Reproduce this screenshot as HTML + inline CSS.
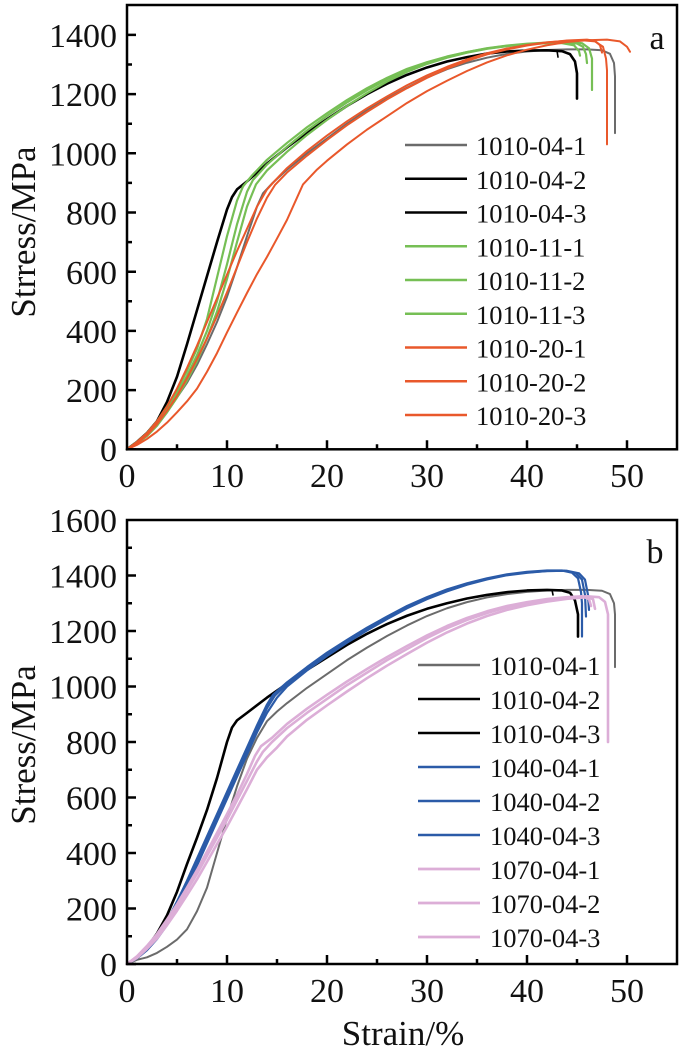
<!DOCTYPE html>
<html><head><meta charset="utf-8"><style>
html,body{margin:0;padding:0;background:#fff;}
svg{display:block;}
text{font-family:"Liberation Serif",serif;fill:#111;}
.tk{font-size:34px;}
.lg{font-size:26.5px;}
.al{font-size:35px;}
polyline{fill:none;stroke-linejoin:round;stroke-linecap:round;}
</style></head><body>
<svg width="685" height="1058" viewBox="0 0 685 1058" xmlns="http://www.w3.org/2000/svg">
<rect x="0" y="0" width="685" height="1058" fill="#fff"/>

<!-- ===== Panel a curves ===== -->
<g transform="translate(127,449.3) scale(10,-0.296)">
<polyline vector-effect="non-scaling-stroke" stroke="#6b6b6b" stroke-width="2" points="0,0 1,20 2,45 3,80 4,125 5,175 6,225 7,285 8,355 9,430 10,515 11,615 12,720 13,820 13.6,865 14.5,898 16,945 18,1000 20,1050 22,1100 24,1145 26,1185 28,1222 30,1256 32,1284 34,1306 36,1323 38,1336 40,1344 42,1349 44,1351 46,1351 47.5,1348 48.3,1336 48.7,1305 48.8,1260 48.8,1068"/>
<polyline vector-effect="non-scaling-stroke" stroke="#000" stroke-width="2.6" points="0,0 1,25 2,55 3,95 4,160 5,245 6,355 7,470 8,585 9,700 10,810 10.5,852 11,878 12,905 14,965 16,1020 18,1070 20,1115 22,1160 24,1200 26,1235 28,1265 30,1290 32,1310 34,1325 36,1337 38,1344 40,1347 42,1348 43.5,1345 44.3,1335 44.8,1310 45,1270 45,1185"/>
<polyline vector-effect="non-scaling-stroke" stroke="#000" stroke-width="1.6" points="43,1347 43.1,1325"/>
<polyline vector-effect="non-scaling-stroke" stroke="#76bf55" stroke-width="2.2" points="0,0 1,25 2,55 3,95 4,145 5,200 6,265 7,340 8,440 9,580 10,720 11,840 11.6,888 12.5,925 14,978 16,1035 18,1088 20,1135 22,1180 24,1220 26,1255 28,1285 30,1308 32,1327 34,1342 36,1354 38,1363 40,1369 42,1373 44,1374 45,1371 45.6,1360 45.9,1335 46,1305"/>
<polyline vector-effect="non-scaling-stroke" stroke="#76bf55" stroke-width="2.2" points="0,0 1,22 2,50 3,88 4,135 5,188 6,248 7,318 8,400 9,500 10,625 11,760 12,870 12.6,910 14,962 16,1022 18,1077 20,1126 22,1172 24,1213 26,1250 28,1281 30,1306 32,1326 34,1342 36,1355 38,1364 40,1370 42,1374 44,1376 45.5,1372 46.2,1355 46.5,1320 46.5,1214"/>
<polyline vector-effect="non-scaling-stroke" stroke="#76bf55" stroke-width="2.2" points="0,0 1,20 2,45 3,80 4,125 5,175 6,232 7,298 8,375 9,465 10,575 11,700 12,820 12.9,895 14,942 16,1005 18,1062 20,1113 22,1160 24,1203 26,1242 28,1275 30,1302 32,1323 34,1340 36,1353 38,1362 40,1368 42,1372 43.5,1372 44.7,1365 45.2,1345 45.3,1330"/>
<polyline vector-effect="non-scaling-stroke" stroke="#e9582b" stroke-width="2" points="0,0 1,25 2,55 3,95 4,145 5,205 6,275 7,350 8,430 9,510 10,590 11,670 12,745 13,820 14,878 14.8,908 16,950 18,1008 20,1060 22,1108 24,1152 26,1192 28,1230 30,1263 32,1292 34,1317 36,1338 38,1354 40,1366 42,1375 44,1380 45.5,1382 46.8,1378 47.6,1360 47.9,1320 48,1280 48,1030"/>
<polyline vector-effect="non-scaling-stroke" stroke="#e9582b" stroke-width="2" points="0,0 1,20 2,48 3,85 4,130 5,180 6,240 7,305 8,375 9,450 10,530 11,615 12,700 13,780 14,850 14.8,893 16,935 18,992 20,1045 22,1095 24,1140 26,1182 28,1220 30,1255 32,1286 34,1312 36,1334 38,1351 40,1364 42,1374 44,1381 46,1384 46.8,1380 47.3,1365 47.5,1340"/>
<polyline vector-effect="non-scaling-stroke" stroke="#e9582b" stroke-width="2" points="0,0 1,15 2,35 3,60 4,90 5,125 6,162 7,205 8,262 9,325 10,395 11,462 12,528 13,592 14,650 15,712 16,775 17,850 17.6,895 19,945 20,975 22,1030 24,1080 26,1125 28,1170 30,1210 32,1245 34,1278 36,1307 38,1331 40,1350 42,1365 44,1376 46,1382 48,1384 49.3,1378 50,1360 50.3,1343"/>
</g>

<!-- Panel a frame & ticks -->
<g stroke="#000" stroke-width="2.5" fill="none">
<rect x="127" y="5" width="550" height="444.3"/>
<path d="M127 449.3h9M127 390.1h9M127 330.9h9M127 271.7h9M127 212.5h9M127 153.3h9M127 94.1h9M127 34.9h9"/>
<path d="M127 419.7h5M127 360.5h5M127 301.3h5M127 242.1h5M127 182.9h5M127 123.7h5M127 64.5h5"/>
<path d="M227 449.3v-9M327 449.3v-9M427 449.3v-9M527 449.3v-9M627 449.3v-9"/>
<path d="M177 449.3v-5M277 449.3v-5M377 449.3v-5M477 449.3v-5M577 449.3v-5"/>
</g>
<g class="tk" text-anchor="end">
<text x="117" y="461">0</text>
<text x="117" y="402">200</text>
<text x="117" y="343">400</text>
<text x="117" y="284">600</text>
<text x="117" y="224.5">800</text>
<text x="117" y="165.5">1000</text>
<text x="117" y="106">1200</text>
<text x="117" y="47">1400</text>
</g>
<g class="tk" text-anchor="middle">
<text x="127" y="487">0</text>
<text x="227" y="487">10</text>
<text x="327" y="487">20</text>
<text x="427" y="487">30</text>
<text x="527" y="487">40</text>
<text x="627" y="487">50</text>
</g>
<text class="tk" x="657" y="49" text-anchor="middle">a</text>
<text class="al" transform="translate(35,232) rotate(-90)" text-anchor="middle">Strress/MPa</text>

<!-- Legend a -->
<g stroke-width="2.4">
<line x1="405" y1="145" x2="467" y2="145" stroke="#6b6b6b"/>
<line x1="405" y1="178.75" x2="467" y2="178.75" stroke="#000"/>
<line x1="405" y1="212.5" x2="467" y2="212.5" stroke="#000"/>
<line x1="405" y1="246.25" x2="467" y2="246.25" stroke="#76bf55"/>
<line x1="405" y1="280" x2="467" y2="280" stroke="#76bf55"/>
<line x1="405" y1="313.75" x2="467" y2="313.75" stroke="#76bf55"/>
<line x1="405" y1="347.5" x2="467" y2="347.5" stroke="#e9582b"/>
<line x1="405" y1="381.25" x2="467" y2="381.25" stroke="#e9582b"/>
<line x1="405" y1="415" x2="467" y2="415" stroke="#e9582b"/>
</g>
<g class="lg">
<text x="476" y="155">1010-04-1</text>
<text x="476" y="188.75">1010-04-2</text>
<text x="476" y="222.5">1010-04-3</text>
<text x="476" y="256.25">1010-11-1</text>
<text x="476" y="290">1010-11-2</text>
<text x="476" y="323.75">1010-11-3</text>
<text x="476" y="357.5">1010-20-1</text>
<text x="476" y="391.25">1010-20-2</text>
<text x="476" y="425">1010-20-3</text>
</g>

<!-- ===== Panel b curves ===== -->
<g transform="translate(127,964) scale(10,-0.2775)">
<polyline vector-effect="non-scaling-stroke" stroke="#6b6b6b" stroke-width="2" points="0,0 0.5,8 1,15 2,24 3,40 4,62 5,88 6,125 7,190 8,275 9,400 10,525 11,640 12,740 13,815 14,875 15,910 16,940 18,995 20,1045 22,1095 24,1140 26,1182 28,1220 30,1254 32,1282 34,1304 36,1321 38,1333 40,1341 42,1346 44,1348 46,1348 47.5,1345 48.3,1333 48.7,1300 48.8,1260 48.8,1070"/>
<polyline vector-effect="non-scaling-stroke" stroke="#000" stroke-width="2.6" points="0,0 1,25 2,60 3,110 4,175 5,260 6,360 7,455 8,555 9,670 10,800 10.5,852 11,878 12,905 14,960 16,1010 18,1060 20,1105 22,1150 24,1190 26,1225 28,1255 30,1280 32,1300 34,1317 36,1330 38,1340 40,1346 42,1348 43.5,1346 44.3,1338 44.8,1310 45.1,1260 45.1,1180"/>
<polyline vector-effect="non-scaling-stroke" stroke="#000" stroke-width="1.6" points="42.5,1348 42.6,1330"/>
<polyline vector-effect="non-scaling-stroke" stroke="#2b5ba8" stroke-width="2.2" points="0,0 1,25 2,60 3,105 4,155 5,225 6,300 7,380 8,460 9,540 10,620 11,700 12,780 13,860 14,935 14.6,970 16,1015 18,1070 20,1122 22,1168 24,1212 26,1252 28,1290 30,1322 32,1350 34,1372 36,1390 38,1404 40,1413 42,1418 43.5,1418 44.5,1410 45.1,1390 45.4,1340 45.5,1300 45.5,1180"/>
<polyline vector-effect="non-scaling-stroke" stroke="#2b5ba8" stroke-width="2.2" points="0,0 1,22 2,55 3,98 4,148 5,215 6,290 7,368 8,447 9,527 10,607 11,688 12,768 13,848 14,922 14.8,968 16,1008 18,1064 20,1116 22,1163 24,1207 26,1248 28,1286 30,1318 32,1346 34,1369 36,1388 38,1402 40,1411 42,1416 43.8,1417 44.9,1408 45.5,1385 45.8,1330 45.9,1252"/>
<polyline vector-effect="non-scaling-stroke" stroke="#2b5ba8" stroke-width="2.2" points="0,0 1,20 2,50 3,90 4,140 5,205 6,280 7,355 8,435 9,515 10,595 11,675 12,755 13,835 14,905 15,960 16,1000 18,1058 20,1110 22,1158 24,1202 26,1243 28,1282 30,1315 32,1343 34,1367 36,1386 38,1401 40,1410 42,1416 44,1417 45.2,1408 45.8,1385 46.1,1330 46.2,1276"/>
<polyline vector-effect="non-scaling-stroke" stroke="#dcaed7" stroke-width="2.6" points="0,0 1,25 2,60 3,100 4,150 5,205 6,265 7,325 8,390 9,455 10,520 11,590 12,660 13,730 13.6,765 14.5,800 16,850 18,905 20,955 22,1005 24,1050 26,1095 28,1135 30,1175 32,1210 34,1240 36,1265 38,1285 40,1300 42,1312 44,1320 46,1325 47.2,1322 47.8,1305 48.1,1260 48.1,800"/>
<polyline vector-effect="non-scaling-stroke" stroke="#dcaed7" stroke-width="2.6" points="0,0 1,28 2,65 3,108 4,160 5,215 6,275 7,338 8,405 9,472 10,540 11,610 12,685 12.8,750 13.4,785 14.5,815 16,865 18,920 20,970 22,1018 24,1063 26,1106 28,1146 30,1184 32,1218 34,1247 36,1271 38,1290 40,1304 42,1315 44,1322 45.5,1325 46.2,1315 46.4,1290"/>
<polyline vector-effect="non-scaling-stroke" stroke="#dcaed7" stroke-width="2.6" points="0,0 1,22 2,55 3,92 4,140 5,192 6,248 7,305 8,368 9,432 10,495 11,562 12,630 13,700 14,745 15,780 16,820 18,880 20,932 22,982 24,1030 26,1075 28,1117 30,1158 32,1195 34,1227 36,1254 38,1276 40,1293 42,1306 44,1316 46,1322 46.6,1315 46.8,1280"/>
</g>

<!-- Panel b frame & ticks -->
<g stroke="#000" stroke-width="2.5" fill="none">
<rect x="127" y="520" width="550" height="444"/>
<path d="M127 964h9M127 908.5h9M127 853h9M127 797.5h9M127 742h9M127 686.5h9M127 631h9M127 575.5h9"/>
<path d="M127 936.25h5M127 880.75h5M127 825.25h5M127 769.75h5M127 714.25h5M127 658.75h5M127 603.25h5M127 547.75h5"/>
<path d="M227 964v-9M327 964v-9M427 964v-9M527 964v-9M627 964v-9"/>
<path d="M177 964v-5M277 964v-5M377 964v-5M477 964v-5M577 964v-5"/>
</g>
<g class="tk" text-anchor="end">
<text x="117" y="976">0</text>
<text x="117" y="920.5">200</text>
<text x="117" y="865">400</text>
<text x="117" y="809.5">600</text>
<text x="117" y="754">800</text>
<text x="117" y="698.5">1000</text>
<text x="117" y="643">1200</text>
<text x="117" y="587.5">1400</text>
<text x="117" y="532">1600</text>
</g>
<g class="tk" text-anchor="middle">
<text x="127" y="1002">0</text>
<text x="227" y="1002">10</text>
<text x="327" y="1002">20</text>
<text x="427" y="1002">30</text>
<text x="527" y="1002">40</text>
<text x="627" y="1002">50</text>
</g>
<text class="tk" x="655" y="563" text-anchor="middle">b</text>
<text class="al" transform="translate(35,745) rotate(-90)" text-anchor="middle">Stress/MPa</text>
<text class="al" x="403" y="1045" text-anchor="middle">Strain/%</text>

<!-- Legend b -->
<g stroke-width="2.4">
<line x1="418" y1="665" x2="480" y2="665" stroke="#6b6b6b"/>
<line x1="418" y1="699" x2="480" y2="699" stroke="#000"/>
<line x1="418" y1="733" x2="480" y2="733" stroke="#000"/>
<line x1="418" y1="767" x2="480" y2="767" stroke="#2b5ba8"/>
<line x1="418" y1="801" x2="480" y2="801" stroke="#2b5ba8"/>
<line x1="418" y1="835" x2="480" y2="835" stroke="#2b5ba8"/>
<line x1="418" y1="869" x2="480" y2="869" stroke="#dcaed7" stroke-width="2.8"/>
<line x1="418" y1="903" x2="480" y2="903" stroke="#dcaed7" stroke-width="2.8"/>
<line x1="418" y1="937" x2="480" y2="937" stroke="#dcaed7" stroke-width="2.8"/>
</g>
<g class="lg">
<text x="490" y="675">1010-04-1</text>
<text x="490" y="709">1010-04-2</text>
<text x="490" y="743">1010-04-3</text>
<text x="490" y="777">1040-04-1</text>
<text x="490" y="811">1040-04-2</text>
<text x="490" y="845">1040-04-3</text>
<text x="490" y="879">1070-04-1</text>
<text x="490" y="913">1070-04-2</text>
<text x="490" y="947">1070-04-3</text>
</g>
</svg>
</body></html>
